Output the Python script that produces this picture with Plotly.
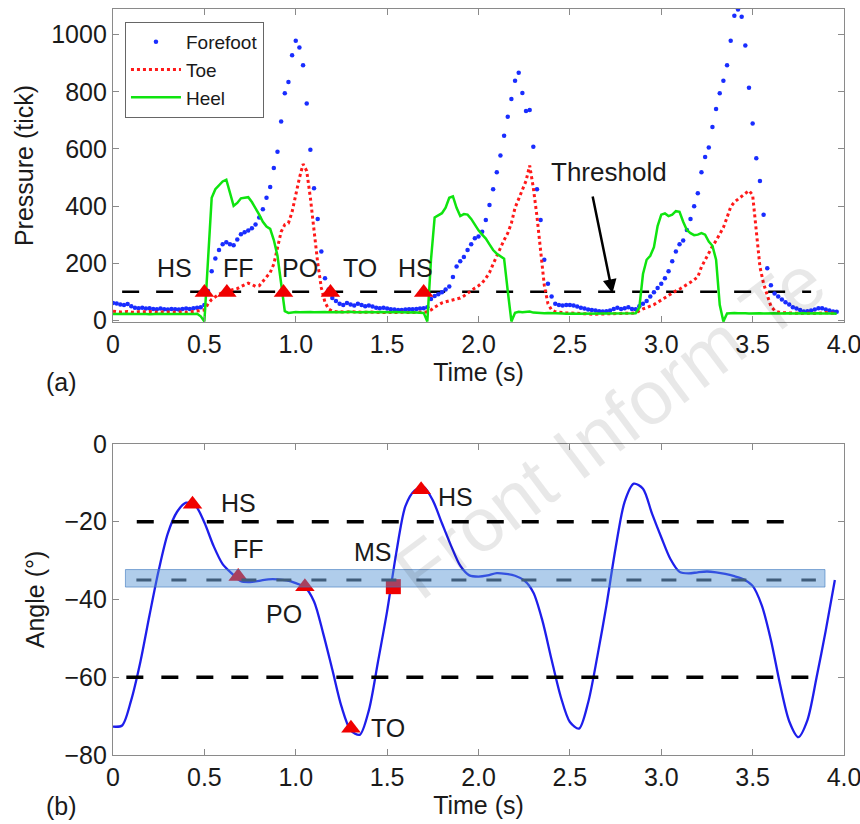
import plotly.graph_objects as go

# ---------------- data: panel (a) pressure, sampled every 0.02 s ----------------
forefoot = [61, 59, 55, 54, 57, 49, 44, 42, 44, 41, 42, 40, 39, 41, 39, 38, 40, 39, 38, 40, 41, 40, 42, 44, 46, 54,
            103, 172, 216, 246, 266, 273, 266, 263, 283, 301, 308, 314, 322, 335, 360, 389, 429, 467, 533, 590,
            696, 795, 834, 928, 979, 955, 893, 759, 597, 462, 355, 241, 147, 108, 78, 68,
            58, 54, 61, 55, 52, 58, 54, 49, 52, 48, 44, 42, 44, 41, 39, 38, 36, 36, 38, 39, 39, 40, 41, 42,
            46, 75, 85, 91, 98, 108, 118, 152, 188, 207, 222, 246, 266, 287, 293, 310, 351, 404, 459, 518,
            577, 646, 713, 775, 839, 867, 796, 733, 736, 608, 459, 351, 212, 128, 83, 58,
            54, 52, 54, 54, 52, 48, 44, 41, 38, 36, 34, 32, 31, 32, 34, 40, 44, 40, 42, 46, 40,
            39, 49, 58, 68, 83, 98, 113, 128, 147, 172, 207, 241, 266, 279, 316, 355, 399, 445, 518, 572,
            605, 677, 740, 795, 839, 893, 979, 1066, 1088, 1063, 962, 814, 689, 567, 488, 370, 182, 123, 94, 83,
            73, 63, 55, 46, 41, 36, 31, 32, 34, 38, 42, 42, 38, 34, 31, 30]
toe = [32, 30, 29, 30, 31, 29, 28, 30, 29, 30, 31, 29, 28, 29, 30, 29, 28, 29, 30, 29, 28, 29, 30, 31, 34,
       36, 58, 73, 83, 91, 98, 101, 103, 106, 111, 118, 125, 130, 125, 119, 121, 137, 150, 167, 197,
       256, 310, 335, 340, 380, 440, 498, 547, 523, 429, 310, 202, 113, 63, 39, 32,
       30, 29, 28, 29, 30, 29, 28, 27, 28, 29, 28, 27, 26, 27, 28, 27, 26, 27, 28, 27, 26, 27, 28, 27, 28, 30,
       36, 46, 55, 61, 65, 68, 70, 73, 78, 85, 95, 105, 113, 121, 131, 147, 167, 197, 226, 256,
       281, 305, 340, 394, 424, 459, 488, 542, 464, 363, 251, 123, 58, 36, 30,
       28, 27, 26, 26, 25, 24, 24, 23, 22, 21, 21, 22, 22, 23, 24, 24, 23, 24, 25, 24, 25, 26,
       34, 40, 44, 49, 55, 63, 71, 79, 89, 97, 103, 109, 116, 123, 133, 142, 152, 187, 212, 236,
       259, 279, 301, 325, 360, 397, 414, 424, 434, 441, 454, 439, 300, 187, 128, 88, 49, 34, 29,
       27, 26, 25, 26, 25, 24, 25, 26, 25, 24, 25, 26, 27, 25, 24, 24]
heel = [22, 21, 22, 23, 22, 21, 22, 22, 23, 22, 21, 22, 22, 23, 22, 21, 22, 22, 23, 22, 22, 21, 22, 23,
        14, -4,
        212, 429, 459, 473, 486, 492, 449, 401, 411, 427, 429, 431, 414, 394, 370, 345, 328, 320, 281, 226,
        133, 32, 26, 28, 29,
        28, 29, 30, 29, 28, 29, 30, 29, 28, 29, 30, 29, 28, 29, 30, 28, 27, 28, 29, 28, 27, 28, 29, 28, 27,
        28, 29, 28, 27, 26, 27, 28, 27, 26, 26,
        -4, 212, 360, 368, 375, 394, 429, 434, 394, 365, 372, 370, 355, 335, 315, 300, 286, 266, 246, 233,
        226, 216, 103, -4, 26, 30, 28, 29, 31,
        27, 26, 26, 25, 26, 26, 25, 24, 24, 23, 24, 24, 23, 23, 24, 24, 23, 23, 24, 25, 24, 24, 25, 24, 24,
        25, 24, 24, 25,
        44, 162, 212, 226, 256, 330, 370, 374, 365, 370, 382, 380, 345, 316, 305, 298, 300, 305, 300, 276,
        261, 212, 54, -4, 24, 26,
        26, 25, 26, 25, 24, 25, 26, 25, 24, 25, 26, 25, 24, 25, 26, 25, 24, 25, 26, 25, 24, 25, 24, 25, 24,
        25, 24, 24, 23]
press_time = [round(0.02 * i, 2) for i in range(len(heel))]

press_event_t = [0.50, 0.623, 0.933, 1.19, 1.70]
press_event_v = [97, 97, 97, 97, 97]
press_labels = ["HS", "FF", "PO", "TO", "HS"]
press_label_t = [0.334, 0.685, 1.025, 1.353, 1.655]
press_label_v = [183, 183, 183, 183, 183]
threshold = 100

# ---------------- data: panel (b) angle, sampled every 0.05 s ----------------
angle = [-72.7, -72.4, -65.8, -56, -44, -32.5, -23, -17.5, -15.1, -15.8,
         -20.2, -26.2, -30.9, -33.3, -35.3, -35.5, -35.2, -34.8, -34.8, -35.1,
         -35.8, -36.8, -40.5, -48.7, -58, -67.5, -73.6, -74.8, -68.5, -56,
         -43, -28, -16, -12, -11.1, -14.5, -20.4, -26.2, -31.3, -33.8,
         -34.1, -33.8, -33.2, -33.4, -33.9, -35.1, -38.2, -45.5, -55.5, -65,
         -71.5, -73.2, -66.5, -54.7, -41.5, -26.8, -14.8, -10.2, -11.5, -18,
         -24, -29.6, -32.9, -33.3, -33, -32.8, -33, -33.4, -34, -34.8,
         -36.5, -41.5, -50.4, -61.8, -71.3, -75.4, -71, -60, -48, -35]
angle_time = [round(0.05 * i, 2) for i in range(len(angle))]

angle_tri_t = [0.435, 0.685, 1.05, 1.302, 1.686]
angle_tri_v = [-15.5, -34.1, -36.7, -73.1, -11.8]
ms_t = [1.534]
ms_v = [-36.7]
angle_labels = ["HS", "FF", "PO", "MS", "TO", "HS"]
angle_label_t = [0.685, 0.74, 0.935, 1.425, 1.507, 1.876]
angle_label_v = [-15.3, -27.0, -43.7, -27.8, -73.1, -13.6]
angle_upper, angle_mid, angle_lower = -20, -35, -60
band_low, band_high = -36.8, -32.3

time_ticks = [0, 0.5, 1.0, 1.5, 2.0, 2.5, 3.0, 3.5, 4.0]
time_ticktext = ["0", "0.5", "1.0", "1.5", "2.0", "2.5", "3.0", "3.5", "4.0"]
press_ticks = [0, 200, 400, 600, 800, 1000]
angle_ticks = [-80, -60, -40, -20, 0]

FONT = "Liberation Sans, Arial, sans-serif"
TXT = "#1a1a1a"

fig = go.Figure()

fig.add_trace(go.Scatter(x=press_time, y=forefoot, name="Forefoot", mode="markers",
                         marker=dict(size=4.5, color="rgb(25,45,255)"), xaxis="x", yaxis="y"))
fig.add_trace(go.Scatter(x=press_time, y=toe, name="Toe", mode="lines",
                         line=dict(color="rgb(255,25,25)", width=3, dash="dot"), xaxis="x", yaxis="y"))
fig.add_trace(go.Scatter(x=press_time, y=heel, name="Heel", mode="lines",
                         line=dict(color="rgb(15,228,15)", width=2.5), xaxis="x", yaxis="y"))
fig.add_trace(go.Scatter(x=press_event_t, y=press_event_v, mode="markers", showlegend=False,
                         marker=dict(symbol="triangle-up", size=17, color="rgb(240,0,0)"),
                         xaxis="x", yaxis="y"))

fig.add_trace(go.Scatter(x=angle_time, y=angle, mode="lines", showlegend=False,
                         line=dict(color="rgb(30,30,235)", width=2.3, shape="spline", smoothing=0.8),
                         xaxis="x2", yaxis="y2"))
fig.add_trace(go.Scatter(x=angle_tri_t, y=angle_tri_v, mode="markers", showlegend=False,
                         marker=dict(symbol="triangle-up", size=17, color="rgb(240,0,0)"),
                         xaxis="x2", yaxis="y2"))
fig.add_trace(go.Scatter(x=ms_t, y=ms_v, mode="markers", showlegend=False,
                         marker=dict(symbol="square", size=15, color="rgb(240,0,0)"),
                         xaxis="x2", yaxis="y2"))

shapes = [
    dict(type="line", xref="x", yref="y", x0=0.05, x1=3.82, y0=threshold, y1=threshold,
         line=dict(color="black", width=2.5, dash="17px,17px"), layer="below"),
    dict(type="line", xref="x2", yref="y2", x0=0.13, x1=3.72, y0=angle_upper, y1=angle_upper,
         line=dict(color="black", width=3.5, dash="17px,18px"), layer="above"),
    dict(type="line", xref="x2", yref="y2", x0=0.073, x1=3.82, y0=angle_lower, y1=angle_lower,
         line=dict(color="black", width=3.5, dash="17px,18px"), layer="above"),
    dict(type="line", xref="x2", yref="y2", x0=0.128, x1=3.846, y0=angle_mid, y1=angle_mid,
         line=dict(color="#333333", width=3, dash="15px,20px"), layer="above"),
    dict(type="rect", xref="x2", yref="y2", x0=0.068, x1=3.896, y0=band_low, y1=band_high,
         fillcolor="rgba(80,145,210,0.45)", line=dict(color="rgba(60,120,190,0.6)", width=1),
         layer="above"),
]

annotations = []
for lab, t, v in zip(press_labels, press_label_t, press_label_v):
    annotations.append(dict(x=t, y=v, xref="x", yref="y", text=lab, showarrow=False,
                            font=dict(size=25, color=TXT, family=FONT)))
for lab, t, v in zip(angle_labels, angle_label_t, angle_label_v):
    annotations.append(dict(x=t, y=v, xref="x2", yref="y2", text=lab, showarrow=False,
                            font=dict(size=25, color=TXT, family=FONT)))
annotations += [
    dict(x=2.733, y=95, xref="x", yref="y", ax=2.623, ay=439, axref="x", ayref="y", text="",
         showarrow=True, arrowhead=2, arrowsize=1.1, arrowwidth=2.5, arrowcolor="black"),
    dict(x=2.712, y=519, xref="x", yref="y", text="Threshold", showarrow=False,
         font=dict(size=26, color=TXT, family=FONT)),
    dict(x=0.072, y=0.536, xref="paper", yref="paper", text="(a)", showarrow=False,
         xanchor="center", yanchor="middle", font=dict(size=25, color=TXT, family=FONT)),
    dict(x=0.072, y=0.0215, xref="paper", yref="paper", text="(b)", showarrow=False,
         xanchor="center", yanchor="middle", font=dict(size=25, color=TXT, family=FONT)),
    dict(x=0.709, y=0.482, xref="paper", yref="paper", text="Front Inform Te", showarrow=False,
         xanchor="center", yanchor="middle",
         textangle=-37, font=dict(size=76, color="rgba(0,0,0,0.09)", family=FONT)),
]

axis_common = dict(showline=True, linecolor="#8a8a8a", linewidth=1.3, mirror="ticks",
                   ticks="inside", ticklen=6, tickcolor="#8a8a8a", tickwidth=1.2,
                   showgrid=False, zeroline=False, automargin=False, ticklabeloverflow="allow",
                   tickfont=dict(size=25, color=TXT, family=FONT))

fig.update_layout(
    width=860, height=824,
    margin=dict(l=0, r=0, t=0, b=0, pad=0, autoexpand=False),
    paper_bgcolor="white", plot_bgcolor="white",
    font=dict(family=FONT, color=TXT),
    xaxis=dict(domain=[0.1314, 0.9814], range=[0, 4], anchor="y",
               tickvals=time_ticks, ticktext=time_ticktext,
               title=dict(text="Time (s)", font=dict(size=25, color=TXT, family=FONT), standoff=6),
               **axis_common),
    yaxis=dict(domain=[0.6092, 0.9891], range=[-6, 1090], anchor="x",
               tickvals=press_ticks,
               title=dict(text="Pressure (tick)", font=dict(size=25, color=TXT, family=FONT), standoff=10),
               **axis_common),
    xaxis2=dict(domain=[0.1314, 0.9814], range=[0, 4], anchor="y2",
                tickvals=time_ticks, ticktext=time_ticktext,
                title=dict(text="Time (s)", font=dict(size=25, color=TXT, family=FONT), standoff=4),
                **axis_common),
    yaxis2=dict(domain=[0.0837, 0.4612], range=[-80, 0], anchor="x2",
                tickvals=angle_ticks,
                title=dict(text="Angle (°)", font=dict(size=25, color=TXT, family=FONT), standoff=12),
                **axis_common),
    legend=dict(x=0.1453, y=0.9733, xanchor="left", yanchor="top",
                bgcolor="white", bordercolor="#666666", borderwidth=1,
                font=dict(size=19, color=TXT, family=FONT), itemwidth=50, tracegroupgap=0),
    shapes=shapes,
    annotations=annotations,
    showlegend=True,
)

fig.write_html("out.html", config={"displayModeBar": False},
               post_script="document.body.style.margin='0px';document.body.style.overflow='hidden';")
